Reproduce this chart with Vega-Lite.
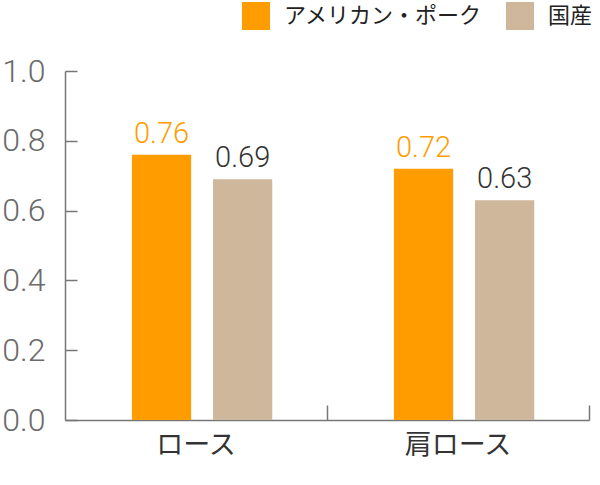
{
  "$schema": "https://vega.github.io/schema/vega-lite/v6.json",
  "autosize": "none",
  "width": 524,
  "height": 349,
  "padding": {"left": 65, "top": 71, "right": 11, "bottom": 65},
  "config": {"view": {"stroke": null}, "font": "Roboto"},
  "data": {"values": [
    {"部位": "ロース", "種類": "アメリカン・ポーク", "値": 0.76},
    {"部位": "ロース", "種類": "国産", "値": 0.69},
    {"部位": "肩ロース", "種類": "アメリカン・ポーク", "値": 0.72},
    {"部位": "肩ロース", "種類": "国産", "値": 0.63}
  ]},
  "encoding": {
    "x": {
      "field": "部位", "type": "nominal", "sort": ["ロース", "肩ロース"],
      "scale": {"paddingInner": 0, "paddingOuter": 0},
      "axis": {
        "title": null, "labelAngle": 0, "bandPosition": 1,
        "tickSize": -15, "tickColor": "#777777", "tickWidth": 1.5,
        "domainColor": "#777777", "domainWidth": 1.5,
        "labelFont": "Noto Sans CJK JP", "labelFontSize": 27, "labelColor": "#333333",
        "labelPadding": 27
      }
    },
    "xOffset": {
      "field": "種類", "sort": ["アメリカン・ポーク", "国産"],
      "scale": {"paddingInner": 0.27, "paddingOuter": 0.75, "align": 0.55}
    },
    "y": {
      "field": "値", "type": "quantitative",
      "scale": {"domain": [0, 1]},
      "axis": {
        "title": null, "grid": false, "values": [0, 0.2, 0.4, 0.6, 0.8, 1.0], "format": ".1f",
        "tickSize": -12, "tickColor": "#777777", "tickWidth": 1.5,
        "domainColor": "#777777", "domainWidth": 1.5,
        "labelFont": "Roboto", "labelFontSize": 32, "labelColor": "#6b6b6b", "labelFontWeight": 300,
        "labelPadding": 32
      }
    }
  },
  "layer": [
    {
      "mark": {"type": "bar"},
      "encoding": {
        "color": {
          "field": "種類", "type": "nominal", "sort": ["アメリカン・ポーク", "国産"],
          "scale": {"domain": ["アメリカン・ポーク", "国産"], "range": ["#FF9C00", "#CFB79B"]},
          "legend": {
            "orient": "none", "legendX": 177, "legendY": -69, "direction": "horizontal",
            "title": null, "symbolType": "square", "symbolSize": 784, "symbolStrokeWidth": 0,
            "symbolOpacity": 1, "labelFont": "Noto Sans CJK JP", "labelFontSize": 22,
            "labelColor": "#222222", "labelOffset": 14, "columnPadding": 23, "padding": 0,
            "labelLimit": 300
          }
        }
      }
    },
    {
      "mark": {"type": "text", "baseline": "alphabetic", "dy": -12, "fontSize": 29, "font": "Roboto", "fontWeight": 300},
      "encoding": {
        "text": {"field": "値", "type": "quantitative", "format": ".2f"},
        "color": {
          "field": "種類", "type": "nominal",
          "scale": {"domain": ["アメリカン・ポーク", "国産"], "range": ["#FF9C00", "#333333"]},
          "legend": null
        }
      }
    }
  ],
  "resolve": {"scale": {"color": "independent"}}
}
